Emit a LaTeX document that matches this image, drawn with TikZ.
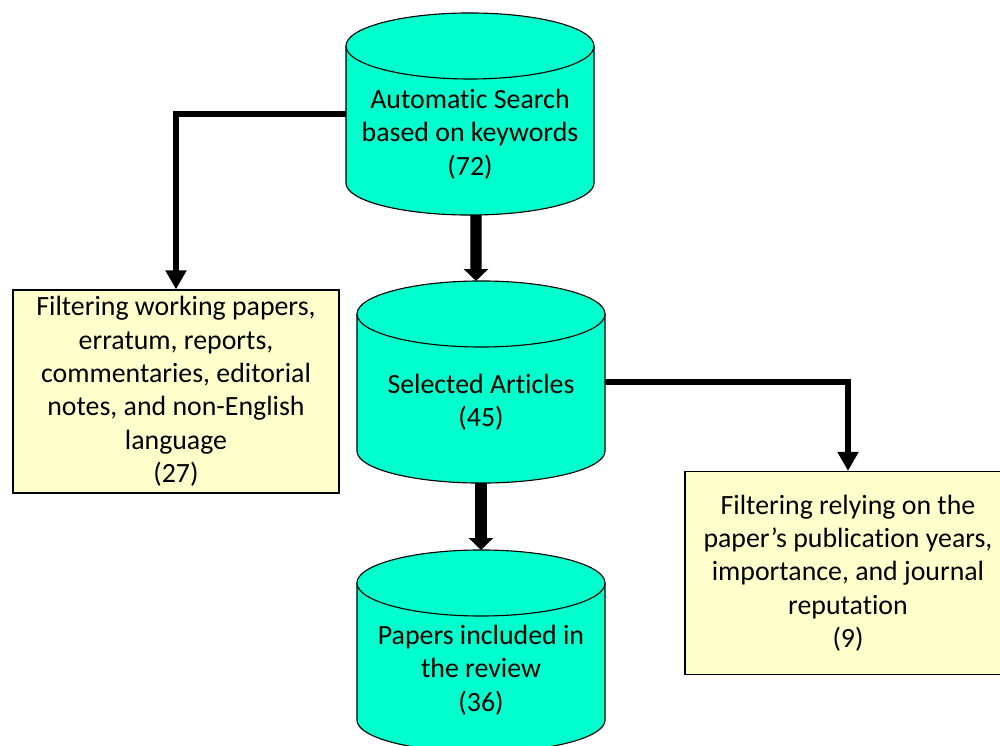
\documentclass[tikz,border=0pt]{standalone}
\usepackage{fontspec}
\setmainfont{Carlito}[Ligatures=NoCommon]
\usepackage{tikz}
\usetikzlibrary{arrows.meta,positioning}
\definecolor{dbfill}{HTML}{00FFCC}
\definecolor{notefill}{HTML}{FFFFCC}
% cylinder drawn round an (invisible) node
\newcommand{\dbshape}[1]{%
  \filldraw[dbline] ([yshift=-0.825cm]#1.north west) -- ([yshift=0.8cm]#1.south west)
    arc[start angle=180,end angle=360,x radius=3.1cm,y radius=0.8cm] -- ([yshift=-0.825cm]#1.north east)
    arc[start angle=0,end angle=180,x radius=3.1cm,y radius=0.825cm] -- cycle;
  \draw[dbline] ([yshift=-0.825cm]#1.north west) arc[start angle=180,end angle=360,x radius=3.1cm,y radius=0.825cm];}

\begin{document}
\begin{tikzpicture}[x=0.025cm,y=-0.025cm,
  every node/.style={font=\fontsize{19.8}{23.7}\selectfont,align=center},
  db/.style={rectangle,minimum width=6.2cm,minimum height=5.05cm,inner sep=0pt,outer sep=0pt},
  dbline/.style={line width=0.8pt,fill=dbfill},
  note/.style={rectangle,draw,line width=0.8pt,fill=notefill,minimum width=8.15cm,minimum height=5.075cm,inner sep=0pt},
  main/.style={line width=11.5*0.709pt,-{Triangle[width=24*0.709pt,length=12*0.709pt]}},
  side/.style={line width=7*0.709pt,-{Triangle[width=20*0.709pt,length=19*0.709pt]}}]
\useasboundingbox (0,0) rectangle (1000,745);
% stores
\node[db] (search) at (470,114) {};
\node[db] (selected) at (481,382) {};
\node[db] (included) at (481,651) {};
\dbshape{search}
\dbshape{selected}
\dbshape{included}
\node (search-txt) at ([yshift=-0.5cm]search.center) {Automatic Search\\based on keywords\\(72)};
\node (selected-txt) at ([yshift=-0.5cm]selected.center) {Selected Articles\\(45)};
\node (included-txt) at ([yshift=-0.48cm]included.center) {Papers included in\\the review\\(36)};
% filters
\node[note] (filterA) at (176,391.5) {Filtering working papers,\\erratum, reports,\\commentaries, editorial\\notes, and non-English\\language\\(27)};
\node[note] (filterB) at (848,573) {Filtering relying on the\\paper’s publication years,\\importance, and journal\\reputation\\(9)};
% down linkages
\draw[main] ([xshift=0.15cm]search.south) -- ([xshift=-0.125cm]selected.north);
\draw[main] (selected.south) -- (included.north);
% side linkages
\draw[side] (search.west) -| (filterA.north);
\draw[side] (selected.east) -| (filterB.north);
\end{tikzpicture}
\end{document}
